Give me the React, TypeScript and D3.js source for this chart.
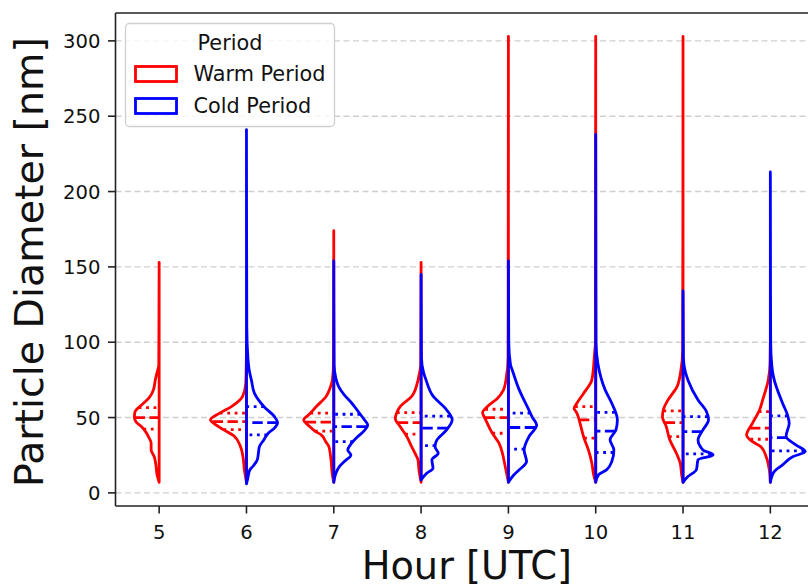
import React from "react";
import * as d3 from "d3";

type P = [number, number];

const hours = ["5", "6", "7", "8", "9", "10", "11", "12"];
const yTicks = [0, 50, 100, 150, 200, 250, 300];
const periods = ["Warm Period", "Cold Period"];

// density profiles: [diameter nm, relative density]
const warmProfiles: (P[] | null)[] = [
  [[153,0],[85,0.01],[80,0.06],[75,0.11],[68,0.17],[63,0.29],[57,0.57],[54,0.69],[50.5,0.71],[47,0.66],[44,0.51],[40,0.37],[37,0.3],[33,0.23],[28.5,0.23],[24,0.14],[18,0.09],[12,0.06],[7,0]],
  [[98,0],[80,0.01],[72.8,0.02],[64,0.11],[57.3,0.43],[52.9,0.77],[48.5,1.03],[44,0.8],[37.4,0.34],[30.7,0.17],[24,0.1],[15.3,0.06],[7,0]],
  [[174,0],[85,0.01],[75,0.04],[70,0.1],[64,0.22],[57.3,0.5],[52,0.71],[48.5,0.86],[44,0.69],[41,0.54],[38.5,0.36],[34,0.23],[30.7,0.14],[22,0.08],[12,0.04],[7,0]],
  [[153,0],[85,0.01],[78,0.06],[72.8,0.11],[64,0.27],[57.3,0.6],[53,0.7],[49.6,0.74],[44,0.6],[37.4,0.41],[30.7,0.27],[26,0.17],[22,0.09],[15,0.06],[7,0]],
  [[303,0],[90,0.01],[75,0.07],[68.4,0.14],[62.8,0.31],[57.3,0.6],[53.3,0.74],[48.5,0.65],[39.6,0.46],[33,0.27],[26.3,0.17],[20.8,0.12],[14,0.06],[7,0]],
  [[303,0],[100,0.01],[90.5,0.04],[75,0.11],[66,0.35],[59.5,0.54],[56.2,0.62],[53,0.54],[46.3,0.45],[37.4,0.35],[28.5,0.21],[19.7,0.11],[12,0.06],[7,0]],
  [[303,0],[95,0.01],[81.6,0.06],[70.5,0.17],[61.7,0.43],[56.2,0.55],[50.6,0.59],[44,0.48],[35.2,0.38],[26.3,0.19],[19.7,0.08],[12,0.04],[7,0]],
  [[100,0],[85,0.01],[75,0.06],[61.7,0.22],[55,0.31],[46.3,0.51],[38.5,0.68],[34,0.51],[30.7,0.27],[24,0.12],[15.3,0.03],[7,0]],
];

const coldProfiles: (P[] | null)[] = [
  null,
  [[241,0],[110,0.01],[90,0.04],[80,0.09],[75,0.14],[66,0.23],[57,0.51],[50.6,0.8],[46.7,0.89],[43,0.8],[39.8,0.63],[35,0.49],[30.7,0.37],[26,0.34],[22,0.31],[18,0.2],[15,0.09],[10,0.04],[6,0]],
  [[154,0],[85,0.01],[76,0.06],[70.5,0.14],[65,0.3],[60,0.5],[54,0.7],[49,0.86],[45,0.97],[41,0.86],[37.4,0.69],[33,0.51],[28.5,0.4],[25.2,0.49],[21,0.31],[17.5,0.16],[13,0.06],[7,0]],
  [[145,0],[90,0.01],[80,0.07],[75,0.14],[64,0.35],[56.2,0.69],[48.5,0.89],[41.8,0.73],[35,0.45],[30.7,0.4],[26.3,0.49],[22,0.31],[16.4,0.34],[13,0.16],[8.6,0]],
  [[154,0],[100,0.01],[85,0.06],[81.6,0.11],[68.4,0.31],[57.3,0.54],[50,0.69],[45,0.81],[37.4,0.59],[28.5,0.45],[20.8,0.52],[15.3,0.31],[12,0.16],[7,0]],
  [[238,0],[100,0.01],[86,0.06],[68.4,0.27],[59.5,0.46],[48.5,0.62],[41.8,0.58],[35.2,0.41],[28.5,0.52],[20.8,0.46],[15.3,0.31],[12,0.08],[7,0]],
  [[134,0],[90,0.01],[80,0.07],[75,0.14],[61.7,0.43],[54,0.67],[48.5,0.73],[41.8,0.57],[35.2,0.43],[28.5,0.57],[25.2,0.86],[22,0.43],[15.3,0.38],[10.8,0.14],[7,0]],
  [[213,0],[100,0.01],[85,0.04],[77,0.09],[59.5,0.35],[51.8,0.49],[46.3,0.54],[37.4,0.45],[31.9,0.73],[27.4,1.0],[24,0.64],[18.6,0.35],[14.1,0.11],[7,0]],
];

// [Q1, median, Q3]
const warmQuartiles: (number[] | null)[] = [
  [42.3, 50, 56.6], [42, 47.3, 53], [41, 47, 53], [39, 46.7, 53.3],
  [39.6, 50, 55.5], [36.3, 48.5, 57.3], [37.4, 46.7, 54.4], [35.6, 43, 54],
];
const coldQuartiles: (number[] | null)[] = [
  null, [38.5, 46.7, 57.3], [34, 44, 52.2], [31.4, 43, 51],
  [29, 43.4, 53], [26.8, 41, 53.5], [25.9, 40.7, 50.6], [27.9, 36.7, 51.1],
];

const WARM = "#ff0000";
const COLD = "#0000ff";
const FONT = "DejaVu Sans, sans-serif";

const L = 115.5, R = 814, T = 13, B = 506;
const LW = 2.8;

function densityAt(profile: P[], v: number): number {
  const s = [...profile].sort((a, b) => a[0] - b[0]);
  for (let i = 0; i < s.length - 1; i++) {
    if (v >= s[i][0] && v <= s[i + 1][0]) {
      const t = (v - s[i][0]) / (s[i + 1][0] - s[i][0] || 1);
      return s[i][1] + t * (s[i + 1][1] - s[i][1]);
    }
  }
  return 0;
}

export default function App() {
  const x = d3.scaleBand<string>().domain(hours).range([L, R]).padding(0);
  const y = d3.scaleLinear().domain([-8.7, 318.5]).range([B, T]);
  const w = d3.scaleLinear().domain([0, 1]).range([0, 0.4 * x.bandwidth()]);

  const half = (profile: P[], cx: number, sign: number) => {
    const pts = [...profile].sort((a, b) => b[0] - a[0]);
    const line = d3
      .line<P>()
      .x((p) => cx + sign * w(p[1]))
      .y((p) => y(p[0]))
      .curve(d3.curveMonotoneY);
    return (line(pts) || "") + "Z";
  };

  const renderHalf = (
    profile: P[] | null,
    quarts: number[] | null,
    i: number,
    sign: number,
    color: string,
    key: string
  ) => {
    if (!profile) return null;
    const cx = (x(hours[i]) || 0) + x.bandwidth() / 2;
    return (
      <g key={key}>
        {quarts &&
          quarts.map((q, k) => {
            const dw = w(densityAt(profile, q));
            return (
              <line
                key={k}
                x1={cx + sign * dw}
                x2={cx}
                y1={y(q)}
                y2={y(q)}
                stroke={color}
                strokeWidth={LW}
                strokeDasharray={k === 1 ? `${3.7 * LW},${1.6 * LW}` : `${1 * LW},${1.65 * LW}`}
              />
            );
          })}
        <path
          d={half(profile, cx, sign)}
          fill="none"
          stroke={color}
          strokeWidth={LW}
          strokeLinejoin="round"
        />
      </g>
    );
  };

  return (
    <svg
      width={808}
      height={587}
      style={{ position: "absolute", left: 0, top: 0, background: "#fff" }}
      fontFamily={FONT}
    >
      <rect x={0} y={0} width={808} height={587} fill="#fff" />
      {/* grid */}
      {yTicks.map((t) => (
        <line
          key={"g" + t}
          x1={L}
          x2={R}
          y1={y(t)}
          y2={y(t)}
          stroke="#cfcfcf"
          strokeWidth={1.4}
          strokeDasharray="6,3.5"
        />
      ))}
      {/* violins */}
      {hours.map((h, i) => renderHalf(warmProfiles[i], warmQuartiles[i], i, -1, WARM, "w" + h))}
      {hours.map((h, i) => renderHalf(coldProfiles[i], coldQuartiles[i], i, 1, COLD, "c" + h))}
      {/* spines */}
      <line x1={L} x2={L} y1={T} y2={B} stroke="#222" strokeWidth={1.6} />
      <line x1={L} x2={R} y1={B} y2={B} stroke="#222" strokeWidth={1.6} />
      <line x1={L} x2={R} y1={T} y2={T} stroke="#222" strokeWidth={1.6} />
      {/* y ticks */}
      {yTicks.map((t) => (
        <g key={"yt" + t}>
          <line x1={L - 7.5} x2={L} y1={y(t)} y2={y(t)} stroke="#222" strokeWidth={1.6} />
          <text x={L - 15} y={y(t) + 7} textAnchor="end" fontSize={19.6} fill="#111">
            {t}
          </text>
        </g>
      ))}
      {/* x ticks */}
      {hours.map((h) => {
        const cx = (x(h) || 0) + x.bandwidth() / 2;
        return (
          <g key={"xt" + h}>
            <line x1={cx} x2={cx} y1={B} y2={B + 7.5} stroke="#222" strokeWidth={1.6} />
            <text x={cx} y={539} textAnchor="middle" fontSize={19.6} fill="#111">
              {h}
            </text>
          </g>
        );
      })}
      {/* axis labels */}
      <text x={(L + R) / 2 + 2} y={579} textAnchor="middle" fontSize={38.3} fill="#111">
        Hour [UTC]
      </text>
      <text
        transform={`translate(43, 262) rotate(-90)`}
        textAnchor="middle"
        fontSize={39.5}
        fill="#111"
      >
        Particle Diameter [nm]
      </text>
      {/* legend */}
      <g>
        <rect x={125.5} y={23.5} width={209} height={103} rx={4} fill="#fff" fillOpacity={0.8} stroke="#d0d0d0" strokeWidth={1.3} />
        <text x={230} y={49.7} textAnchor="middle" fontSize={20.8} fill="#111">
          Period
        </text>
        {periods.map((p, k) => (
          <g key={p}>
            <rect x={135.5} y={66.5 + k * 32} width={41} height={15} fill="none" stroke={k === 0 ? WARM : COLD} strokeWidth={LW} />
            <text x={193.5} y={81.3 + k * 31.8} fontSize={20.8} fill="#111">
              {p}
            </text>
          </g>
        ))}
      </g>
    </svg>
  );
}
